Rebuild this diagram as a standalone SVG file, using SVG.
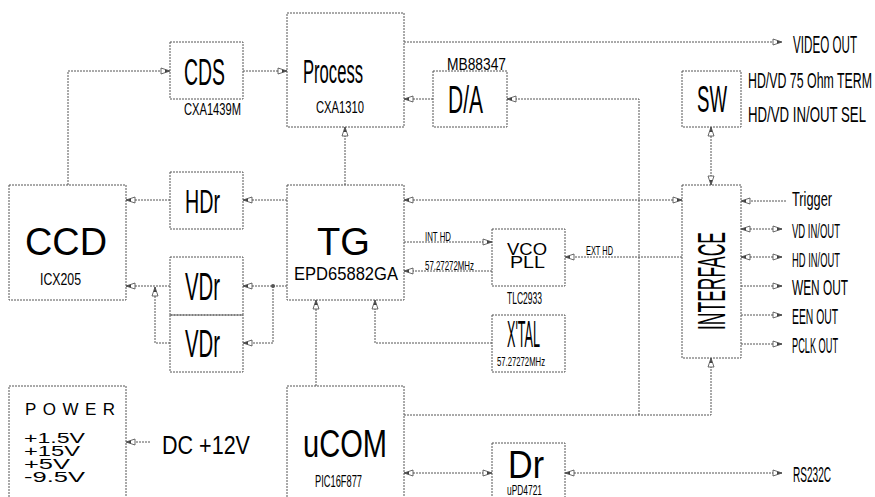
<svg xmlns="http://www.w3.org/2000/svg" width="875" height="497" viewBox="0 0 875 497">
<style>
.box{fill:none;stroke:#555;stroke-width:1;stroke-dasharray:2 1}
.ln{fill:none;stroke:#555;stroke-width:1;stroke-dasharray:2 1}
.a{marker-end:url(#ah)}
.b{marker-start:url(#ah);marker-end:url(#ah)}
text{font-family:"Liberation Sans",Arial,sans-serif;fill:#000}
</style>
<defs>
<marker id="ah" markerUnits="userSpaceOnUse" markerWidth="12" markerHeight="8" refX="10" refY="4" orient="auto-start-reverse" viewBox="0 0 12 8">
<path d="M1,1 L10,4 L1,7 Z" fill="#fff" stroke="#444" stroke-width="0.8"/>
<path d="M5,2.5 L10,4 L5,5.5 Z" fill="#444"/>
</marker>
</defs>
<rect width="875" height="497" fill="#fff"/>
<g id="connectors">
<path class="ln a" d="M68,185 V71 H170"/>
<path class="ln a" d="M243,71 H287"/>
<path class="ln a" d="M404,42 H782"/>
<path class="ln a" d="M639,415 V99 H507"/>
<path class="ln a" d="M433,99 H404"/>
<path class="ln a" d="M345,185 V127"/>
<path class="ln b" d="M711,127 V185"/>
<path class="ln b" d="M404,200 H682"/>
<path class="ln a" d="M287,200 H243"/>
<path class="ln a" d="M170,200 H126"/>
<path class="ln a" d="M287,286 H243"/>
<path class="ln a" d="M273,286 V343 H243"/>
<circle cx="273" cy="286" r="2" fill="#555"/>
<path class="ln a" d="M170,286 H126"/>
<path class="ln a" d="M170,343 H155 V287"/>
<path class="ln a" d="M404,242 H492"/>
<path class="ln a" d="M492,271 H404"/>
<path class="ln a" d="M682,257 H565"/>
<path class="ln a" d="M492,343 H375 V300"/>
<path class="ln a" d="M316,386 V300"/>
<path class="ln a" d="M404,415 H711 V358"/>
<path class="ln b" d="M404,473 H492"/>
<path class="ln b" d="M565,473 H782"/>
<path class="ln a" d="M150,442 H126"/>
<path class="ln a" d="M786,201 H741"/>
<path class="ln b" d="M741,229 H782"/>
<path class="ln b" d="M741,257 H782"/>
<path class="ln a" d="M741,286 H782"/>
<path class="ln a" d="M741,315 H782"/>
<path class="ln a" d="M741,344 H782"/>
</g>
<g id="CDS">
<rect class="box" x="170" y="42" width="73" height="57"/>
<text x="184" y="85" font-size="36" textLength="41" lengthAdjust="spacingAndGlyphs">CDS</text>
<text x="184" y="115" font-size="16" textLength="57" lengthAdjust="spacingAndGlyphs">CXA1439M</text>
</g>
<g id="Process">
<rect class="box" x="287" y="13" width="117" height="114"/>
<text x="303" y="83" font-size="34" textLength="60" lengthAdjust="spacingAndGlyphs">Process</text>
<text x="316" y="113" font-size="17" textLength="48" lengthAdjust="spacingAndGlyphs">CXA1310</text>
</g>
<g id="DA">
<rect class="box" x="433" y="71" width="74" height="56"/>
<text x="447" y="70" font-size="16" textLength="59" lengthAdjust="spacingAndGlyphs">MB88347</text>
<text x="448" y="113" font-size="38" textLength="35" lengthAdjust="spacingAndGlyphs">D/A</text>
</g>
<g id="VideoOut">
<text x="793" y="53" font-size="24" textLength="64" lengthAdjust="spacingAndGlyphs">VIDEO OUT</text>
</g>
<g id="SW">
<rect class="box" x="682" y="71" width="59" height="56"/>
<text x="697" y="112" font-size="36" textLength="30" lengthAdjust="spacingAndGlyphs">SW</text>
<text x="748" y="88" font-size="22" textLength="124" lengthAdjust="spacingAndGlyphs">HD/VD  75 Ohm TERM</text>
<text x="748" y="122" font-size="22" textLength="118" lengthAdjust="spacingAndGlyphs">HD/VD  IN/OUT SEL</text>
</g>
<g id="CCD">
<rect class="box" x="9" y="185" width="117" height="115"/>
<text x="25" y="255" font-size="38" textLength="82" lengthAdjust="spacingAndGlyphs">CCD</text>
<text x="40" y="285" font-size="17" textLength="41" lengthAdjust="spacingAndGlyphs">ICX205</text>
</g>
<g id="HDr">
<rect class="box" x="170" y="172" width="73" height="57"/>
<text x="185" y="213" font-size="34" textLength="35" lengthAdjust="spacingAndGlyphs">HDr</text>
</g>
<g id="VDr1">
<rect class="box" x="170" y="257" width="73" height="58"/>
<text x="185" y="300" font-size="38" textLength="35" lengthAdjust="spacingAndGlyphs">VDr</text>
</g>
<g id="VDr2">
<rect class="box" x="170" y="315" width="73" height="57"/>
<text x="185" y="357" font-size="38" textLength="35" lengthAdjust="spacingAndGlyphs">VDr</text>
</g>
<g id="TG">
<rect class="box" x="287" y="185" width="117" height="115"/>
<text x="317" y="255" font-size="38" textLength="53" lengthAdjust="spacingAndGlyphs">TG</text>
<text x="294" y="280" font-size="18" textLength="104" lengthAdjust="spacingAndGlyphs">EPD65882GA</text>
<text x="425" y="241" font-size="13" textLength="26" lengthAdjust="spacingAndGlyphs">INT HD</text>
<text x="425" y="270" font-size="13" textLength="49" lengthAdjust="spacingAndGlyphs">57.27272MHz</text>
</g>
<g id="VCO">
<rect class="box" x="492" y="229" width="73" height="57"/>
<text x="507" y="255" font-size="17" textLength="40" lengthAdjust="spacingAndGlyphs">VCO</text>
<text x="510" y="268" font-size="17" textLength="35" lengthAdjust="spacingAndGlyphs">PLL</text>
<text x="507" y="304" font-size="16" textLength="35" lengthAdjust="spacingAndGlyphs">TLC2933</text>
<text x="586" y="255" font-size="13" textLength="27" lengthAdjust="spacingAndGlyphs">EXT HD</text>
</g>
<g id="XTAL">
<rect class="box" x="492" y="315" width="73" height="57"/>
<text x="507" y="347" font-size="36" textLength="33" lengthAdjust="spacingAndGlyphs">X'TAL</text>
<text x="497" y="366" font-size="13" textLength="48" lengthAdjust="spacingAndGlyphs">57.27272MHz</text>
</g>
<g id="INTERFACE">
<rect class="box" x="682" y="185" width="59" height="173"/>
<text transform="translate(725,330) rotate(-90)" font-size="38" textLength="98" lengthAdjust="spacingAndGlyphs">INTERFACE</text>
</g>
<g id="Signals">
<text x="792" y="206" font-size="20" textLength="40" lengthAdjust="spacingAndGlyphs">Trigger</text>
<text x="792" y="238" font-size="21" textLength="48" lengthAdjust="spacingAndGlyphs">VD IN/OUT</text>
<text x="792" y="267" font-size="21" textLength="48" lengthAdjust="spacingAndGlyphs">HD IN/OUT</text>
<text x="792" y="295" font-size="22" textLength="56" lengthAdjust="spacingAndGlyphs">WEN OUT</text>
<text x="792" y="324" font-size="22" textLength="46" lengthAdjust="spacingAndGlyphs">EEN OUT</text>
<text x="792" y="353" font-size="22" textLength="46" lengthAdjust="spacingAndGlyphs">PCLK OUT</text>
<text x="793" y="482" font-size="22" textLength="38" lengthAdjust="spacingAndGlyphs">RS232C</text>
</g>
<g id="POWER">
<rect class="box" x="9" y="386" width="117" height="120"/>
<text x="25" y="415" font-size="17" textLength="90" lengthAdjust="spacing">POWER</text>
<text x="24" y="443" font-size="14" textLength="61" lengthAdjust="spacingAndGlyphs">+1.5V</text>
<text x="24" y="456" font-size="14" textLength="56" lengthAdjust="spacingAndGlyphs">+15V</text>
<text x="24" y="469" font-size="14" textLength="46" lengthAdjust="spacingAndGlyphs">+5V</text>
<text x="24" y="482" font-size="14" textLength="61" lengthAdjust="spacingAndGlyphs">-9.5V</text>
<text x="162" y="454" font-size="26" textLength="88" lengthAdjust="spacingAndGlyphs">DC +12V</text>
</g>
<g id="uCOM">
<rect class="box" x="287" y="386" width="117" height="120"/>
<text x="303" y="457" font-size="38" textLength="84" lengthAdjust="spacingAndGlyphs">uCOM</text>
<text x="315" y="487" font-size="17" textLength="47" lengthAdjust="spacingAndGlyphs">PIC16F877</text>
</g>
<g id="Dr">
<rect class="box" x="492" y="443" width="73" height="63"/>
<text x="508" y="478" font-size="38" textLength="36" lengthAdjust="spacingAndGlyphs">Dr</text>
<text x="507" y="495" font-size="15" textLength="35" lengthAdjust="spacingAndGlyphs">uPD4721</text>
</g>
</svg>
